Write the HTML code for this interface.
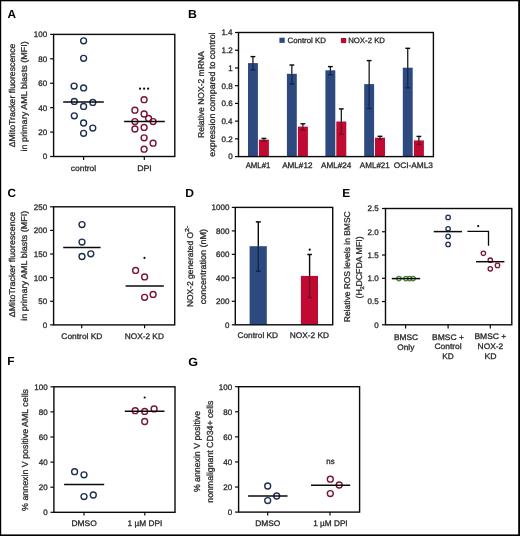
<!DOCTYPE html>
<html><head><meta charset="utf-8"><style>
html,body{margin:0;padding:0;background:#fff;}
svg{display:block;}
svg{will-change:transform;}
text{font-family:"Liberation Sans",sans-serif;text-rendering:geometricPrecision;}
</style></head><body>
<svg width="520" height="536" viewBox="0 0 520 536">
<rect width="520" height="536" fill="#fff"/>
<rect x="0" y="0" width="520" height="1.3" fill="#000"/>
<rect x="0" y="0" width="1.2" height="536" fill="#000"/>
<rect x="518.2" y="0" width="1.8" height="536" fill="#000"/>
<rect x="0" y="534.4" width="520" height="1.6" fill="#000"/>
<text x="7.61" y="17.6" font-size="11.8" textLength="8.52" lengthAdjust="spacingAndGlyphs" font-weight="bold" fill="#000">A</text>
<text x="187.97" y="17.7" font-size="11.8" textLength="8.88" lengthAdjust="spacingAndGlyphs" font-weight="bold" fill="#000">B</text>
<text x="7.53" y="196.6" font-size="11.8" textLength="8.49" lengthAdjust="spacingAndGlyphs" font-weight="bold" fill="#000">C</text>
<text x="185.28" y="196.7" font-size="11.8" textLength="8.73" lengthAdjust="spacingAndGlyphs" font-weight="bold" fill="#000">D</text>
<text x="342.19" y="196.7" font-size="11.8" textLength="7.98" lengthAdjust="spacingAndGlyphs" font-weight="bold" fill="#000">E</text>
<text x="7.3" y="365.4" font-size="11.8" textLength="7.22" lengthAdjust="spacingAndGlyphs" font-weight="bold" fill="#000">F</text>
<text x="188.2" y="366" font-size="11.8" textLength="9.8" lengthAdjust="spacingAndGlyphs" font-weight="bold" fill="#000">G</text>
<rect x="53.6" y="34.4" width="121.2" height="122.1" fill="none" stroke="#0a0a0a" stroke-width="1.4"/>
<line x1="50.1" y1="156.5" x2="53.6" y2="156.5" stroke="#0a0a0a" stroke-width="1.2"/>
<text x="42.76" y="159.35" font-size="8" textLength="4.45" lengthAdjust="spacingAndGlyphs" fill="#2a2a2a" stroke="#2a2a2a" stroke-width="0.3">0</text>
<line x1="50.1" y1="132.08" x2="53.6" y2="132.08" stroke="#0a0a0a" stroke-width="1.2"/>
<text x="38.32" y="134.93" font-size="8" textLength="8.9" lengthAdjust="spacingAndGlyphs" fill="#2a2a2a" stroke="#2a2a2a" stroke-width="0.3">20</text>
<line x1="50.1" y1="107.66" x2="53.6" y2="107.66" stroke="#0a0a0a" stroke-width="1.2"/>
<text x="38.32" y="110.51" font-size="8" textLength="8.9" lengthAdjust="spacingAndGlyphs" fill="#2a2a2a" stroke="#2a2a2a" stroke-width="0.3">40</text>
<line x1="50.1" y1="83.24" x2="53.6" y2="83.24" stroke="#0a0a0a" stroke-width="1.2"/>
<text x="38.32" y="86.09" font-size="8" textLength="8.9" lengthAdjust="spacingAndGlyphs" fill="#2a2a2a" stroke="#2a2a2a" stroke-width="0.3">60</text>
<line x1="50.1" y1="58.82" x2="53.6" y2="58.82" stroke="#0a0a0a" stroke-width="1.2"/>
<text x="38.32" y="61.67" font-size="8" textLength="8.9" lengthAdjust="spacingAndGlyphs" fill="#2a2a2a" stroke="#2a2a2a" stroke-width="0.3">80</text>
<line x1="50.1" y1="34.4" x2="53.6" y2="34.4" stroke="#0a0a0a" stroke-width="1.2"/>
<text x="33.86" y="37.25" font-size="8" textLength="13.35" lengthAdjust="spacingAndGlyphs" fill="#2a2a2a" stroke="#2a2a2a" stroke-width="0.3">100</text>
<line x1="83.6" y1="156.5" x2="83.6" y2="160" stroke="#0a0a0a" stroke-width="1.2"/>
<line x1="144.3" y1="156.5" x2="144.3" y2="160" stroke="#0a0a0a" stroke-width="1.2"/>
<text x="70.84" y="170.5" font-size="8.1" textLength="25.32" lengthAdjust="spacingAndGlyphs" fill="#2a2a2a" stroke="#2a2a2a" stroke-width="0.3">control</text>
<text x="137.18" y="170.5" font-size="8" textLength="14.63" lengthAdjust="spacingAndGlyphs" fill="#2a2a2a" stroke="#2a2a2a" stroke-width="0.3">DPI</text>
<text transform="translate(15.1,147.26) rotate(-90)" font-size="8.5" textLength="103.65" lengthAdjust="spacingAndGlyphs" fill="#2a2a2a" stroke="#2a2a2a" stroke-width="0.3">ΔMitoTracker fluorescence</text>
<text transform="translate(27.2,151.61) rotate(-90)" font-size="8.5" textLength="110.48" lengthAdjust="spacingAndGlyphs" fill="#2a2a2a" stroke="#2a2a2a" stroke-width="0.3">in primary AML blasts (MFI)</text>
<circle cx="83.6" cy="40.8" r="2.95" fill="none" stroke="#1f2f52" stroke-width="1.4"/>
<circle cx="83.6" cy="58.3" r="2.95" fill="none" stroke="#1f2f52" stroke-width="1.4"/>
<circle cx="74.1" cy="86.1" r="2.95" fill="none" stroke="#1f2f52" stroke-width="1.4"/>
<circle cx="83.6" cy="87.9" r="2.95" fill="none" stroke="#1f2f52" stroke-width="1.4"/>
<circle cx="74.3" cy="101.4" r="2.95" fill="none" stroke="#1f2f52" stroke-width="1.4"/>
<circle cx="92.8" cy="102.4" r="2.95" fill="none" stroke="#1f2f52" stroke-width="1.4"/>
<circle cx="83.6" cy="106.4" r="2.95" fill="none" stroke="#1f2f52" stroke-width="1.4"/>
<circle cx="74.3" cy="115.8" r="2.95" fill="none" stroke="#1f2f52" stroke-width="1.4"/>
<circle cx="83.6" cy="123" r="2.95" fill="none" stroke="#1f2f52" stroke-width="1.4"/>
<circle cx="92.8" cy="128.1" r="2.95" fill="none" stroke="#1f2f52" stroke-width="1.4"/>
<circle cx="83.6" cy="133.3" r="2.95" fill="none" stroke="#1f2f52" stroke-width="1.4"/>
<circle cx="144.1" cy="99.7" r="2.95" fill="none" stroke="#7a1432" stroke-width="1.4"/>
<circle cx="134.9" cy="110.2" r="2.95" fill="none" stroke="#7a1432" stroke-width="1.4"/>
<circle cx="144.1" cy="114" r="2.95" fill="none" stroke="#7a1432" stroke-width="1.4"/>
<circle cx="148.6" cy="118.5" r="2.95" fill="none" stroke="#7a1432" stroke-width="1.4"/>
<circle cx="153.1" cy="121.6" r="2.95" fill="none" stroke="#7a1432" stroke-width="1.4"/>
<circle cx="134.9" cy="121.6" r="2.95" fill="none" stroke="#7a1432" stroke-width="1.4"/>
<circle cx="134.9" cy="129" r="2.95" fill="none" stroke="#7a1432" stroke-width="1.4"/>
<circle cx="144.1" cy="127.4" r="2.95" fill="none" stroke="#7a1432" stroke-width="1.4"/>
<circle cx="144.1" cy="137.8" r="2.95" fill="none" stroke="#7a1432" stroke-width="1.4"/>
<circle cx="153.1" cy="143.2" r="2.95" fill="none" stroke="#7a1432" stroke-width="1.4"/>
<circle cx="144.1" cy="149.2" r="2.95" fill="none" stroke="#7a1432" stroke-width="1.4"/>
<line x1="63.2" y1="102.1" x2="103.8" y2="102.1" stroke="#0a0a0a" stroke-width="1.5"/>
<line x1="124.1" y1="121.6" x2="164.8" y2="121.6" stroke="#0a0a0a" stroke-width="1.5"/>
<circle cx="140.1" cy="88.7" r="1.1" fill="#0a0a0a"/>
<circle cx="144.1" cy="88.7" r="1.1" fill="#0a0a0a"/>
<circle cx="148.1" cy="88.7" r="1.1" fill="#0a0a0a"/>
<line x1="235" y1="156.6" x2="238.5" y2="156.6" stroke="#0a0a0a" stroke-width="1.2"/>
<text x="228.16" y="159.45" font-size="8" textLength="4.45" lengthAdjust="spacingAndGlyphs" fill="#2a2a2a" stroke="#2a2a2a" stroke-width="0.3">0</text>
<line x1="235" y1="138.87" x2="238.5" y2="138.87" stroke="#0a0a0a" stroke-width="1.2"/>
<text x="221.58" y="141.72" font-size="8" textLength="11.12" lengthAdjust="spacingAndGlyphs" fill="#2a2a2a" stroke="#2a2a2a" stroke-width="0.3">0.2</text>
<line x1="235" y1="121.14" x2="238.5" y2="121.14" stroke="#0a0a0a" stroke-width="1.2"/>
<text x="221.4" y="123.99" font-size="8" textLength="11.12" lengthAdjust="spacingAndGlyphs" fill="#2a2a2a" stroke="#2a2a2a" stroke-width="0.3">0.4</text>
<line x1="235" y1="103.41" x2="238.5" y2="103.41" stroke="#0a0a0a" stroke-width="1.2"/>
<text x="221.52" y="106.26" font-size="8" textLength="11.12" lengthAdjust="spacingAndGlyphs" fill="#2a2a2a" stroke="#2a2a2a" stroke-width="0.3">0.6</text>
<line x1="235" y1="85.69" x2="238.5" y2="85.69" stroke="#0a0a0a" stroke-width="1.2"/>
<text x="221.52" y="88.54" font-size="8" textLength="11.12" lengthAdjust="spacingAndGlyphs" fill="#2a2a2a" stroke="#2a2a2a" stroke-width="0.3">0.8</text>
<line x1="235" y1="67.96" x2="238.5" y2="67.96" stroke="#0a0a0a" stroke-width="1.2"/>
<text x="228.24" y="70.81" font-size="8" textLength="4.45" lengthAdjust="spacingAndGlyphs" fill="#2a2a2a" stroke="#2a2a2a" stroke-width="0.3">1</text>
<line x1="235" y1="50.23" x2="238.5" y2="50.23" stroke="#0a0a0a" stroke-width="1.2"/>
<text x="221.58" y="53.08" font-size="8" textLength="11.12" lengthAdjust="spacingAndGlyphs" fill="#2a2a2a" stroke="#2a2a2a" stroke-width="0.3">1.2</text>
<line x1="235" y1="32.5" x2="238.5" y2="32.5" stroke="#0a0a0a" stroke-width="1.2"/>
<text x="221.4" y="35.35" font-size="8" textLength="11.12" lengthAdjust="spacingAndGlyphs" fill="#2a2a2a" stroke="#2a2a2a" stroke-width="0.3">1.4</text>
<rect x="248" y="63.1" width="9.9" height="93.5" fill="#2d4a80"/>
<rect x="258.9" y="139.6" width="10" height="17" fill="#c00a32"/>
<rect x="286.9" y="73.8" width="9.9" height="82.8" fill="#2d4a80"/>
<rect x="297.9" y="126.6" width="10" height="30" fill="#c00a32"/>
<rect x="325.4" y="70.3" width="9.9" height="86.3" fill="#2d4a80"/>
<rect x="336.3" y="121.5" width="10" height="35.1" fill="#c00a32"/>
<rect x="364.2" y="84.1" width="9.9" height="72.5" fill="#2d4a80"/>
<rect x="375" y="137.7" width="10" height="18.9" fill="#c00a32"/>
<rect x="402.8" y="67.7" width="9.9" height="88.9" fill="#2d4a80"/>
<rect x="413.9" y="140.4" width="10" height="16.2" fill="#c00a32"/>
<line x1="252.95" y1="56.6" x2="252.95" y2="63.1" stroke="#0a0a0a" stroke-width="1.2"/>
<line x1="252.95" y1="63.1" x2="252.95" y2="70" stroke="#16254a" stroke-width="1.2"/>
<line x1="250.55" y1="56.6" x2="255.35" y2="56.6" stroke="#0a0a0a" stroke-width="1.4"/>
<line x1="250.55" y1="70" x2="255.35" y2="70" stroke="#16254a" stroke-width="1.4"/>
<line x1="263.9" y1="138.4" x2="263.9" y2="139.6" stroke="#0a0a0a" stroke-width="1.2"/>
<line x1="263.9" y1="139.6" x2="263.9" y2="141.2" stroke="#6e0c22" stroke-width="1.2"/>
<line x1="261.5" y1="138.4" x2="266.3" y2="138.4" stroke="#0a0a0a" stroke-width="1.4"/>
<line x1="261.5" y1="141.2" x2="266.3" y2="141.2" stroke="#6e0c22" stroke-width="1.4"/>
<line x1="291.85" y1="65" x2="291.85" y2="73.8" stroke="#0a0a0a" stroke-width="1.2"/>
<line x1="291.85" y1="73.8" x2="291.85" y2="84" stroke="#16254a" stroke-width="1.2"/>
<line x1="289.45" y1="65" x2="294.25" y2="65" stroke="#0a0a0a" stroke-width="1.4"/>
<line x1="289.45" y1="84" x2="294.25" y2="84" stroke="#16254a" stroke-width="1.4"/>
<line x1="302.9" y1="123.8" x2="302.9" y2="126.6" stroke="#0a0a0a" stroke-width="1.2"/>
<line x1="302.9" y1="126.6" x2="302.9" y2="130" stroke="#6e0c22" stroke-width="1.2"/>
<line x1="300.5" y1="123.8" x2="305.3" y2="123.8" stroke="#0a0a0a" stroke-width="1.4"/>
<line x1="300.5" y1="130" x2="305.3" y2="130" stroke="#6e0c22" stroke-width="1.4"/>
<line x1="330.35" y1="66.6" x2="330.35" y2="70.3" stroke="#0a0a0a" stroke-width="1.2"/>
<line x1="330.35" y1="70.3" x2="330.35" y2="74.8" stroke="#16254a" stroke-width="1.2"/>
<line x1="327.95" y1="66.6" x2="332.75" y2="66.6" stroke="#0a0a0a" stroke-width="1.4"/>
<line x1="327.95" y1="74.8" x2="332.75" y2="74.8" stroke="#16254a" stroke-width="1.4"/>
<line x1="341.3" y1="108.9" x2="341.3" y2="121.5" stroke="#0a0a0a" stroke-width="1.2"/>
<line x1="341.3" y1="121.5" x2="341.3" y2="134.3" stroke="#6e0c22" stroke-width="1.2"/>
<line x1="338.9" y1="108.9" x2="343.7" y2="108.9" stroke="#0a0a0a" stroke-width="1.4"/>
<line x1="338.9" y1="134.3" x2="343.7" y2="134.3" stroke="#6e0c22" stroke-width="1.4"/>
<line x1="369.15" y1="60.6" x2="369.15" y2="84.1" stroke="#0a0a0a" stroke-width="1.2"/>
<line x1="369.15" y1="84.1" x2="369.15" y2="108.5" stroke="#16254a" stroke-width="1.2"/>
<line x1="366.75" y1="60.6" x2="371.55" y2="60.6" stroke="#0a0a0a" stroke-width="1.4"/>
<line x1="366.75" y1="108.5" x2="371.55" y2="108.5" stroke="#16254a" stroke-width="1.4"/>
<line x1="380" y1="136.3" x2="380" y2="137.7" stroke="#0a0a0a" stroke-width="1.2"/>
<line x1="380" y1="137.7" x2="380" y2="139.4" stroke="#6e0c22" stroke-width="1.2"/>
<line x1="377.6" y1="136.3" x2="382.4" y2="136.3" stroke="#0a0a0a" stroke-width="1.4"/>
<line x1="377.6" y1="139.4" x2="382.4" y2="139.4" stroke="#6e0c22" stroke-width="1.4"/>
<line x1="407.75" y1="48.3" x2="407.75" y2="67.7" stroke="#0a0a0a" stroke-width="1.2"/>
<line x1="407.75" y1="67.7" x2="407.75" y2="87.8" stroke="#16254a" stroke-width="1.2"/>
<line x1="405.35" y1="48.3" x2="410.15" y2="48.3" stroke="#0a0a0a" stroke-width="1.4"/>
<line x1="405.35" y1="87.8" x2="410.15" y2="87.8" stroke="#16254a" stroke-width="1.4"/>
<line x1="418.9" y1="136.4" x2="418.9" y2="140.4" stroke="#0a0a0a" stroke-width="1.2"/>
<line x1="418.9" y1="140.4" x2="418.9" y2="144.5" stroke="#6e0c22" stroke-width="1.2"/>
<line x1="416.5" y1="136.4" x2="421.3" y2="136.4" stroke="#0a0a0a" stroke-width="1.4"/>
<line x1="416.5" y1="144.5" x2="421.3" y2="144.5" stroke="#6e0c22" stroke-width="1.4"/>
<rect x="238.5" y="32.5" width="194.9" height="124.1" fill="none" stroke="#0a0a0a" stroke-width="1.4"/>
<rect x="279.4" y="37.7" width="5.3" height="5.2" fill="#2d4a80"/>
<text x="287.51" y="42.8" font-size="7.7" textLength="38.37" lengthAdjust="spacingAndGlyphs" fill="#2a2a2a" stroke="#2a2a2a" stroke-width="0.3">Control KD</text>
<rect x="340.9" y="38" width="5.3" height="5.1" fill="#c00a32"/>
<text x="348.16" y="42.9" font-size="7.7" textLength="36.82" lengthAdjust="spacingAndGlyphs" fill="#2a2a2a" stroke="#2a2a2a" stroke-width="0.3">NOX-2 KD</text>
<text x="245.68" y="167.5" font-size="8" textLength="24.7" lengthAdjust="spacingAndGlyphs" fill="#2a2a2a" stroke="#2a2a2a" stroke-width="0.3">AML#1</text>
<text x="282.18" y="167.5" font-size="8" textLength="30.24" lengthAdjust="spacingAndGlyphs" fill="#2a2a2a" stroke="#2a2a2a" stroke-width="0.3">AML#12</text>
<text x="321.08" y="167.5" font-size="8" textLength="30.26" lengthAdjust="spacingAndGlyphs" fill="#2a2a2a" stroke="#2a2a2a" stroke-width="0.3">AML#24</text>
<text x="359.88" y="167.5" font-size="8" textLength="29.92" lengthAdjust="spacingAndGlyphs" fill="#2a2a2a" stroke="#2a2a2a" stroke-width="0.3">AML#21</text>
<text x="393.71" y="167.5" font-size="8" textLength="39.25" lengthAdjust="spacingAndGlyphs" fill="#2a2a2a" stroke="#2a2a2a" stroke-width="0.3">OCI-AML3</text>
<text transform="translate(203.5,137.9) rotate(-90)" font-size="8.5" textLength="86.52" lengthAdjust="spacingAndGlyphs" fill="#2a2a2a" stroke="#2a2a2a" stroke-width="0.3">Relative NOX-2 mRNA</text>
<text transform="translate(215.4,156.68) rotate(-90)" font-size="8.6" textLength="124.28" lengthAdjust="spacingAndGlyphs" fill="#2a2a2a" stroke="#2a2a2a" stroke-width="0.3">expression compared to control</text>
<rect x="53.6" y="206.8" width="121.1" height="118.1" fill="none" stroke="#0a0a0a" stroke-width="1.4"/>
<line x1="50.1" y1="324.9" x2="53.6" y2="324.9" stroke="#0a0a0a" stroke-width="1.2"/>
<text x="42.76" y="327.75" font-size="8" textLength="4.45" lengthAdjust="spacingAndGlyphs" fill="#2a2a2a" stroke="#2a2a2a" stroke-width="0.3">0</text>
<line x1="50.1" y1="301.28" x2="53.6" y2="301.28" stroke="#0a0a0a" stroke-width="1.2"/>
<text x="38.32" y="304.13" font-size="8" textLength="8.9" lengthAdjust="spacingAndGlyphs" fill="#2a2a2a" stroke="#2a2a2a" stroke-width="0.3">50</text>
<line x1="50.1" y1="277.66" x2="53.6" y2="277.66" stroke="#0a0a0a" stroke-width="1.2"/>
<text x="33.86" y="280.51" font-size="8" textLength="13.35" lengthAdjust="spacingAndGlyphs" fill="#2a2a2a" stroke="#2a2a2a" stroke-width="0.3">100</text>
<line x1="50.1" y1="254.04" x2="53.6" y2="254.04" stroke="#0a0a0a" stroke-width="1.2"/>
<text x="33.86" y="256.89" font-size="8" textLength="13.35" lengthAdjust="spacingAndGlyphs" fill="#2a2a2a" stroke="#2a2a2a" stroke-width="0.3">150</text>
<line x1="50.1" y1="230.42" x2="53.6" y2="230.42" stroke="#0a0a0a" stroke-width="1.2"/>
<text x="33.86" y="233.27" font-size="8" textLength="13.35" lengthAdjust="spacingAndGlyphs" fill="#2a2a2a" stroke="#2a2a2a" stroke-width="0.3">200</text>
<line x1="50.1" y1="206.8" x2="53.6" y2="206.8" stroke="#0a0a0a" stroke-width="1.2"/>
<text x="33.86" y="209.65" font-size="8" textLength="13.35" lengthAdjust="spacingAndGlyphs" fill="#2a2a2a" stroke="#2a2a2a" stroke-width="0.3">250</text>
<line x1="81.7" y1="324.9" x2="81.7" y2="328.3" stroke="#0a0a0a" stroke-width="1.2"/>
<line x1="144.6" y1="324.9" x2="144.6" y2="328.3" stroke="#0a0a0a" stroke-width="1.2"/>
<text x="61.38" y="338.5" font-size="8.1" textLength="41.02" lengthAdjust="spacingAndGlyphs" fill="#2a2a2a" stroke="#2a2a2a" stroke-width="0.3">Control KD</text>
<text x="124.72" y="338.5" font-size="8.1" textLength="39.18" lengthAdjust="spacingAndGlyphs" fill="#2a2a2a" stroke="#2a2a2a" stroke-width="0.3">NOX-2 KD</text>
<text transform="translate(15.1,317.27) rotate(-90)" font-size="8.5" textLength="105.36" lengthAdjust="spacingAndGlyphs" fill="#2a2a2a" stroke="#2a2a2a" stroke-width="0.3">ΔMitoTracker fluorescence</text>
<text transform="translate(27.2,320.71) rotate(-90)" font-size="8.5" textLength="110.07" lengthAdjust="spacingAndGlyphs" fill="#2a2a2a" stroke="#2a2a2a" stroke-width="0.3">in primary AML blasts (MFI)</text>
<circle cx="82" cy="224.6" r="2.95" fill="none" stroke="#1f2f52" stroke-width="1.4"/>
<circle cx="82" cy="242.1" r="2.95" fill="none" stroke="#1f2f52" stroke-width="1.4"/>
<circle cx="82" cy="256.5" r="2.95" fill="none" stroke="#1f2f52" stroke-width="1.4"/>
<circle cx="90.8" cy="253.8" r="2.95" fill="none" stroke="#1f2f52" stroke-width="1.4"/>
<circle cx="135.6" cy="270.4" r="2.95" fill="none" stroke="#7a1432" stroke-width="1.4"/>
<circle cx="144.6" cy="276.9" r="2.95" fill="none" stroke="#7a1432" stroke-width="1.4"/>
<circle cx="144.6" cy="297.3" r="2.95" fill="none" stroke="#7a1432" stroke-width="1.4"/>
<circle cx="153.1" cy="294.4" r="2.95" fill="none" stroke="#7a1432" stroke-width="1.4"/>
<line x1="63.2" y1="247.5" x2="100.6" y2="247.5" stroke="#0a0a0a" stroke-width="1.5"/>
<line x1="125.6" y1="286" x2="163.8" y2="286" stroke="#0a0a0a" stroke-width="1.5"/>
<circle cx="144.5" cy="257.9" r="1.1" fill="#0a0a0a"/>
<rect x="249.6" y="246.2" width="17.2" height="78.6" fill="#2d4a80"/>
<rect x="300.9" y="275.9" width="17.1" height="48.9" fill="#c00a32"/>
<line x1="258.3" y1="221.9" x2="258.3" y2="246.2" stroke="#0a0a0a" stroke-width="1.4"/>
<line x1="258.3" y1="246.2" x2="258.3" y2="271.2" stroke="#16254a" stroke-width="1.4"/>
<line x1="255.8" y1="221.9" x2="260.8" y2="221.9" stroke="#0a0a0a" stroke-width="1.5"/>
<line x1="255.8" y1="271.2" x2="260.8" y2="271.2" stroke="#16254a" stroke-width="1.5"/>
<line x1="309.6" y1="254.5" x2="309.6" y2="275.9" stroke="#0a0a0a" stroke-width="1.4"/>
<line x1="309.6" y1="275.9" x2="309.6" y2="297.5" stroke="#6e0c22" stroke-width="1.4"/>
<line x1="307.3" y1="254.5" x2="311.9" y2="254.5" stroke="#0a0a0a" stroke-width="1.5"/>
<line x1="307.3" y1="297.5" x2="311.9" y2="297.5" stroke="#6e0c22" stroke-width="1.5"/>
<rect x="235.3" y="207.4" width="97.4" height="117.4" fill="none" stroke="#0a0a0a" stroke-width="1.4"/>
<line x1="231.8" y1="324.8" x2="235.3" y2="324.8" stroke="#0a0a0a" stroke-width="1.2"/>
<text x="224.96" y="327.65" font-size="8" textLength="4.45" lengthAdjust="spacingAndGlyphs" fill="#2a2a2a" stroke="#2a2a2a" stroke-width="0.3">0</text>
<line x1="231.8" y1="301.32" x2="235.3" y2="301.32" stroke="#0a0a0a" stroke-width="1.2"/>
<text x="216.06" y="304.17" font-size="8" textLength="13.35" lengthAdjust="spacingAndGlyphs" fill="#2a2a2a" stroke="#2a2a2a" stroke-width="0.3">200</text>
<line x1="231.8" y1="277.84" x2="235.3" y2="277.84" stroke="#0a0a0a" stroke-width="1.2"/>
<text x="216.06" y="280.69" font-size="8" textLength="13.35" lengthAdjust="spacingAndGlyphs" fill="#2a2a2a" stroke="#2a2a2a" stroke-width="0.3">400</text>
<line x1="231.8" y1="254.36" x2="235.3" y2="254.36" stroke="#0a0a0a" stroke-width="1.2"/>
<text x="216.06" y="257.21" font-size="8" textLength="13.35" lengthAdjust="spacingAndGlyphs" fill="#2a2a2a" stroke="#2a2a2a" stroke-width="0.3">600</text>
<line x1="231.8" y1="230.88" x2="235.3" y2="230.88" stroke="#0a0a0a" stroke-width="1.2"/>
<text x="216.06" y="233.73" font-size="8" textLength="13.35" lengthAdjust="spacingAndGlyphs" fill="#2a2a2a" stroke="#2a2a2a" stroke-width="0.3">800</text>
<line x1="231.8" y1="207.4" x2="235.3" y2="207.4" stroke="#0a0a0a" stroke-width="1.2"/>
<text x="211.62" y="210.25" font-size="8" textLength="17.8" lengthAdjust="spacingAndGlyphs" fill="#2a2a2a" stroke="#2a2a2a" stroke-width="0.3">1000</text>
<circle cx="309.7" cy="249.7" r="1.1" fill="#0a0a0a"/>
<text x="237.48" y="338.4" font-size="8.1" textLength="40.62" lengthAdjust="spacingAndGlyphs" fill="#2a2a2a" stroke="#2a2a2a" stroke-width="0.3">Control KD</text>
<text x="289.71" y="338.4" font-size="8.1" textLength="39.39" lengthAdjust="spacingAndGlyphs" fill="#2a2a2a" stroke="#2a2a2a" stroke-width="0.3">NOX-2 KD</text>
<text transform="translate(193.4,307.1) rotate(-90)" font-size="8.4" textLength="75.21" lengthAdjust="spacingAndGlyphs" fill="#2a2a2a" stroke="#2a2a2a" stroke-width="0.3">NOX-2 generated O</text>
<text transform="translate(189,231.96) rotate(-90)" font-size="5.8" textLength="6.4" lengthAdjust="spacingAndGlyphs" fill="#2a2a2a" stroke="#2a2a2a" stroke-width="0.3">2-</text>
<text transform="translate(205.7,304.18) rotate(-90)" font-size="8.6" textLength="75.24" lengthAdjust="spacingAndGlyphs" fill="#2a2a2a" stroke="#2a2a2a" stroke-width="0.3">concentration (nM)</text>
<rect x="385.5" y="208.5" width="126.3" height="116.3" fill="none" stroke="#0a0a0a" stroke-width="1.4"/>
<line x1="382" y1="324.8" x2="385.5" y2="324.8" stroke="#0a0a0a" stroke-width="1.2"/>
<text x="374.26" y="327.65" font-size="8" textLength="4.45" lengthAdjust="spacingAndGlyphs" fill="#2a2a2a" stroke="#2a2a2a" stroke-width="0.3">0</text>
<line x1="382" y1="301.54" x2="385.5" y2="301.54" stroke="#0a0a0a" stroke-width="1.2"/>
<text x="367.6" y="304.39" font-size="8" textLength="11.12" lengthAdjust="spacingAndGlyphs" fill="#2a2a2a" stroke="#2a2a2a" stroke-width="0.3">0.5</text>
<line x1="382" y1="278.28" x2="385.5" y2="278.28" stroke="#0a0a0a" stroke-width="1.2"/>
<text x="367.58" y="281.13" font-size="8" textLength="11.12" lengthAdjust="spacingAndGlyphs" fill="#2a2a2a" stroke="#2a2a2a" stroke-width="0.3">1.0</text>
<line x1="382" y1="255.02" x2="385.5" y2="255.02" stroke="#0a0a0a" stroke-width="1.2"/>
<text x="367.6" y="257.87" font-size="8" textLength="11.12" lengthAdjust="spacingAndGlyphs" fill="#2a2a2a" stroke="#2a2a2a" stroke-width="0.3">1.5</text>
<line x1="382" y1="231.76" x2="385.5" y2="231.76" stroke="#0a0a0a" stroke-width="1.2"/>
<text x="367.58" y="234.61" font-size="8" textLength="11.12" lengthAdjust="spacingAndGlyphs" fill="#2a2a2a" stroke="#2a2a2a" stroke-width="0.3">2.0</text>
<line x1="382" y1="208.5" x2="385.5" y2="208.5" stroke="#0a0a0a" stroke-width="1.2"/>
<text x="367.6" y="211.35" font-size="8" textLength="11.12" lengthAdjust="spacingAndGlyphs" fill="#2a2a2a" stroke="#2a2a2a" stroke-width="0.3">2.5</text>
<line x1="405.6" y1="324.8" x2="405.6" y2="328.4" stroke="#0a0a0a" stroke-width="1.2"/>
<line x1="448.1" y1="324.8" x2="448.1" y2="328.4" stroke="#0a0a0a" stroke-width="1.2"/>
<line x1="490.3" y1="324.8" x2="490.3" y2="328.4" stroke="#0a0a0a" stroke-width="1.2"/>
<circle cx="398.9" cy="278.6" r="2.2" fill="none" stroke="#4a7f36" stroke-width="1.25"/>
<circle cx="405.9" cy="278.6" r="2.2" fill="none" stroke="#4a7f36" stroke-width="1.25"/>
<circle cx="409.6" cy="278.6" r="2.2" fill="none" stroke="#4a7f36" stroke-width="1.25"/>
<circle cx="413.1" cy="278.6" r="2.2" fill="none" stroke="#4a7f36" stroke-width="1.25"/>
<line x1="391.8" y1="278.6" x2="420.2" y2="278.6" stroke="#0a0a0a" stroke-width="1.5"/>
<circle cx="448.1" cy="217.4" r="2.2" fill="none" stroke="#1f2f52" stroke-width="1.3"/>
<circle cx="448.1" cy="228.8" r="2.2" fill="none" stroke="#1f2f52" stroke-width="1.3"/>
<circle cx="448.1" cy="236.4" r="2.2" fill="none" stroke="#1f2f52" stroke-width="1.3"/>
<circle cx="448.1" cy="244.4" r="2.2" fill="none" stroke="#1f2f52" stroke-width="1.3"/>
<line x1="433.7" y1="231.6" x2="462" y2="231.6" stroke="#0a0a0a" stroke-width="1.5"/>
<circle cx="483.4" cy="253.3" r="2.2" fill="none" stroke="#7a1432" stroke-width="1.3"/>
<circle cx="490.3" cy="260.2" r="2.2" fill="none" stroke="#7a1432" stroke-width="1.3"/>
<circle cx="497.5" cy="265.4" r="2.2" fill="none" stroke="#7a1432" stroke-width="1.3"/>
<circle cx="490.3" cy="268.8" r="2.2" fill="none" stroke="#7a1432" stroke-width="1.3"/>
<line x1="476.1" y1="261.7" x2="504.4" y2="261.7" stroke="#0a0a0a" stroke-width="1.5"/>
<polyline points="467.4,231.3 488.5,231.3 488.5,245.8" fill="none" stroke="#0a0a0a" stroke-width="1.3"/>
<circle cx="478.2" cy="226.1" r="1.1" fill="#0a0a0a"/>
<text x="393.91" y="339.8" font-size="8" textLength="24.12" lengthAdjust="spacingAndGlyphs" fill="#2a2a2a" stroke="#2a2a2a" stroke-width="0.3">BMSC</text>
<text x="397.31" y="349.5" font-size="8" textLength="17.02" lengthAdjust="spacingAndGlyphs" fill="#2a2a2a" stroke="#2a2a2a" stroke-width="0.3">Only</text>
<text x="432.1" y="339.6" font-size="8" textLength="31.81" lengthAdjust="spacingAndGlyphs" fill="#2a2a2a" stroke="#2a2a2a" stroke-width="0.3">BMSC +</text>
<text x="434.48" y="349.4" font-size="8" textLength="27.18" lengthAdjust="spacingAndGlyphs" fill="#2a2a2a" stroke="#2a2a2a" stroke-width="0.3">Control</text>
<text x="442.32" y="358.8" font-size="8" textLength="11.47" lengthAdjust="spacingAndGlyphs" fill="#2a2a2a" stroke="#2a2a2a" stroke-width="0.3">KD</text>
<text x="474.4" y="339.4" font-size="8" textLength="31.91" lengthAdjust="spacingAndGlyphs" fill="#2a2a2a" stroke="#2a2a2a" stroke-width="0.3">BMSC +</text>
<text x="477.61" y="349.3" font-size="8" textLength="25.52" lengthAdjust="spacingAndGlyphs" fill="#2a2a2a" stroke="#2a2a2a" stroke-width="0.3">NOX-2</text>
<text x="484.48" y="359" font-size="8" textLength="12.13" lengthAdjust="spacingAndGlyphs" fill="#2a2a2a" stroke="#2a2a2a" stroke-width="0.3">KD</text>
<text transform="translate(350.2,322.2) rotate(-90)" font-size="8.4" textLength="110.84" lengthAdjust="spacingAndGlyphs" fill="#2a2a2a" stroke="#2a2a2a" stroke-width="0.3">Relative ROS levels in BMSC</text>
<text transform="translate(361.9,298.45) rotate(-90)" font-size="8.5" textLength="9.28" lengthAdjust="spacingAndGlyphs" fill="#2a2a2a" stroke="#2a2a2a" stroke-width="0.3">(H</text>
<text transform="translate(364.4,289.5) rotate(-90)" font-size="5.5" textLength="3.3" lengthAdjust="spacingAndGlyphs" fill="#2a2a2a" stroke="#2a2a2a" stroke-width="0.3">2</text>
<text transform="translate(361.9,286.62) rotate(-90)" font-size="8.5" textLength="50.27" lengthAdjust="spacingAndGlyphs" fill="#2a2a2a" stroke="#2a2a2a" stroke-width="0.3">DCFDA MFI)</text>
<rect x="53.9" y="386.8" width="121.1" height="125.5" fill="none" stroke="#0a0a0a" stroke-width="1.4"/>
<line x1="50.4" y1="512.3" x2="53.9" y2="512.3" stroke="#0a0a0a" stroke-width="1.2"/>
<text x="43.26" y="515.15" font-size="8" textLength="4.45" lengthAdjust="spacingAndGlyphs" fill="#2a2a2a" stroke="#2a2a2a" stroke-width="0.3">0</text>
<line x1="50.4" y1="487.2" x2="53.9" y2="487.2" stroke="#0a0a0a" stroke-width="1.2"/>
<text x="38.82" y="490.05" font-size="8" textLength="8.9" lengthAdjust="spacingAndGlyphs" fill="#2a2a2a" stroke="#2a2a2a" stroke-width="0.3">20</text>
<line x1="50.4" y1="462.1" x2="53.9" y2="462.1" stroke="#0a0a0a" stroke-width="1.2"/>
<text x="38.82" y="464.95" font-size="8" textLength="8.9" lengthAdjust="spacingAndGlyphs" fill="#2a2a2a" stroke="#2a2a2a" stroke-width="0.3">40</text>
<line x1="50.4" y1="437" x2="53.9" y2="437" stroke="#0a0a0a" stroke-width="1.2"/>
<text x="38.82" y="439.85" font-size="8" textLength="8.9" lengthAdjust="spacingAndGlyphs" fill="#2a2a2a" stroke="#2a2a2a" stroke-width="0.3">60</text>
<line x1="50.4" y1="411.9" x2="53.9" y2="411.9" stroke="#0a0a0a" stroke-width="1.2"/>
<text x="38.82" y="414.75" font-size="8" textLength="8.9" lengthAdjust="spacingAndGlyphs" fill="#2a2a2a" stroke="#2a2a2a" stroke-width="0.3">80</text>
<line x1="50.4" y1="386.8" x2="53.9" y2="386.8" stroke="#0a0a0a" stroke-width="1.2"/>
<text x="34.36" y="389.65" font-size="8" textLength="13.35" lengthAdjust="spacingAndGlyphs" fill="#2a2a2a" stroke="#2a2a2a" stroke-width="0.3">100</text>
<line x1="84" y1="512.3" x2="84" y2="515.6" stroke="#0a0a0a" stroke-width="1.2"/>
<line x1="144.8" y1="512.3" x2="144.8" y2="515.6" stroke="#0a0a0a" stroke-width="1.2"/>
<circle cx="74.6" cy="471.7" r="2.95" fill="none" stroke="#1f2f52" stroke-width="1.4"/>
<circle cx="84" cy="474.8" r="2.95" fill="none" stroke="#1f2f52" stroke-width="1.4"/>
<circle cx="84" cy="496.6" r="2.95" fill="none" stroke="#1f2f52" stroke-width="1.4"/>
<circle cx="93.3" cy="495" r="2.95" fill="none" stroke="#1f2f52" stroke-width="1.4"/>
<line x1="64.1" y1="484.6" x2="104.2" y2="484.6" stroke="#0a0a0a" stroke-width="1.5"/>
<circle cx="135.2" cy="410.7" r="2.95" fill="none" stroke="#7a1432" stroke-width="1.4"/>
<circle cx="144.7" cy="411.4" r="2.95" fill="none" stroke="#7a1432" stroke-width="1.4"/>
<circle cx="154.1" cy="408.9" r="2.95" fill="none" stroke="#7a1432" stroke-width="1.4"/>
<circle cx="144.7" cy="421.5" r="2.95" fill="none" stroke="#7a1432" stroke-width="1.4"/>
<line x1="124.8" y1="411.2" x2="164.5" y2="411.2" stroke="#0a0a0a" stroke-width="1.5"/>
<circle cx="144.7" cy="397.5" r="1.1" fill="#0a0a0a"/>
<text x="71.5" y="526.4" font-size="8" textLength="25.3" lengthAdjust="spacingAndGlyphs" fill="#2a2a2a" stroke="#2a2a2a" stroke-width="0.3">DMSO</text>
<text x="127.48" y="526.1" font-size="8" textLength="34.8" lengthAdjust="spacingAndGlyphs" fill="#2a2a2a" stroke="#2a2a2a" stroke-width="0.3">1 µM DPI</text>
<text transform="translate(28.3,510.91) rotate(-90)" font-size="8.8" textLength="121.93" lengthAdjust="spacingAndGlyphs" fill="#2a2a2a" stroke="#2a2a2a" stroke-width="0.3">% annexin V positive AML cells</text>
<rect x="238.6" y="386.7" width="121" height="125.4" fill="none" stroke="#0a0a0a" stroke-width="1.4"/>
<line x1="235.1" y1="512.1" x2="238.6" y2="512.1" stroke="#0a0a0a" stroke-width="1.2"/>
<text x="227.76" y="514.95" font-size="8" textLength="4.45" lengthAdjust="spacingAndGlyphs" fill="#2a2a2a" stroke="#2a2a2a" stroke-width="0.3">0</text>
<line x1="235.1" y1="487.02" x2="238.6" y2="487.02" stroke="#0a0a0a" stroke-width="1.2"/>
<text x="223.32" y="489.87" font-size="8" textLength="8.9" lengthAdjust="spacingAndGlyphs" fill="#2a2a2a" stroke="#2a2a2a" stroke-width="0.3">20</text>
<line x1="235.1" y1="461.94" x2="238.6" y2="461.94" stroke="#0a0a0a" stroke-width="1.2"/>
<text x="223.32" y="464.79" font-size="8" textLength="8.9" lengthAdjust="spacingAndGlyphs" fill="#2a2a2a" stroke="#2a2a2a" stroke-width="0.3">40</text>
<line x1="235.1" y1="436.86" x2="238.6" y2="436.86" stroke="#0a0a0a" stroke-width="1.2"/>
<text x="223.32" y="439.71" font-size="8" textLength="8.9" lengthAdjust="spacingAndGlyphs" fill="#2a2a2a" stroke="#2a2a2a" stroke-width="0.3">60</text>
<line x1="235.1" y1="411.78" x2="238.6" y2="411.78" stroke="#0a0a0a" stroke-width="1.2"/>
<text x="223.32" y="414.63" font-size="8" textLength="8.9" lengthAdjust="spacingAndGlyphs" fill="#2a2a2a" stroke="#2a2a2a" stroke-width="0.3">80</text>
<line x1="235.1" y1="386.7" x2="238.6" y2="386.7" stroke="#0a0a0a" stroke-width="1.2"/>
<text x="218.86" y="389.55" font-size="8" textLength="13.35" lengthAdjust="spacingAndGlyphs" fill="#2a2a2a" stroke="#2a2a2a" stroke-width="0.3">100</text>
<line x1="267.7" y1="512.1" x2="267.7" y2="515.4" stroke="#0a0a0a" stroke-width="1.2"/>
<line x1="330" y1="512.1" x2="330" y2="515.4" stroke="#0a0a0a" stroke-width="1.2"/>
<circle cx="267.7" cy="486" r="2.95" fill="none" stroke="#1f2f52" stroke-width="1.4"/>
<circle cx="267.7" cy="500.6" r="2.95" fill="none" stroke="#1f2f52" stroke-width="1.4"/>
<circle cx="276.7" cy="496" r="2.95" fill="none" stroke="#1f2f52" stroke-width="1.4"/>
<line x1="248.1" y1="496" x2="287.5" y2="496" stroke="#0a0a0a" stroke-width="1.5"/>
<circle cx="330.3" cy="479.2" r="2.95" fill="none" stroke="#7a1432" stroke-width="1.4"/>
<circle cx="339.2" cy="485" r="2.95" fill="none" stroke="#7a1432" stroke-width="1.4"/>
<circle cx="330.3" cy="493.6" r="2.95" fill="none" stroke="#7a1432" stroke-width="1.4"/>
<line x1="311" y1="485.2" x2="350.2" y2="485.2" stroke="#0a0a0a" stroke-width="1.5"/>
<text x="326.27" y="464.2" font-size="8" textLength="8.32" lengthAdjust="spacingAndGlyphs" fill="#2a2a2a" stroke="#2a2a2a" stroke-width="0.3">ns</text>
<text x="255.21" y="526.4" font-size="8" textLength="25.19" lengthAdjust="spacingAndGlyphs" fill="#2a2a2a" stroke="#2a2a2a" stroke-width="0.3">DMSO</text>
<text x="313.28" y="526.1" font-size="8" textLength="34.38" lengthAdjust="spacingAndGlyphs" fill="#2a2a2a" stroke="#2a2a2a" stroke-width="0.3">1 µM DPI</text>
<text transform="translate(200.2,492.11) rotate(-90)" font-size="8.8" textLength="81.19" lengthAdjust="spacingAndGlyphs" fill="#2a2a2a" stroke="#2a2a2a" stroke-width="0.3">% annexin V positive</text>
<text transform="translate(212.5,502.69) rotate(-90)" font-size="8.8" textLength="102.09" lengthAdjust="spacingAndGlyphs" fill="#2a2a2a" stroke="#2a2a2a" stroke-width="0.3">nonmalignant CD34+ cells</text>
</svg>
</body></html>
